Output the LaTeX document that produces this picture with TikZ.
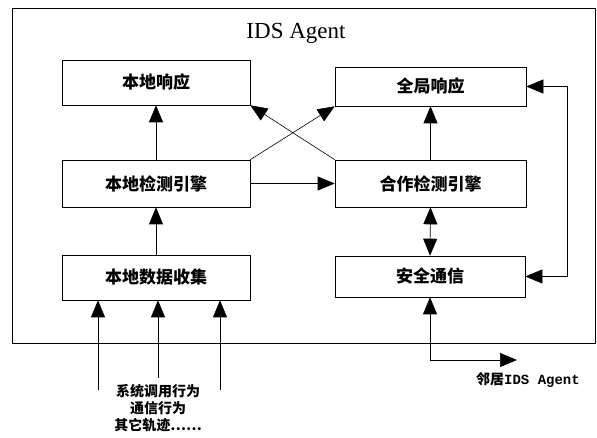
\documentclass[tikz,border=0pt]{standalone}
\usepackage{fontspec}
\setmainfont{Liberation Serif}
\setmonofont{Liberation Mono}
\newfontfamily\cjk{Noto Sans CJK SC}
\usetikzlibrary{arrows.meta}
\begin{document}
\begin{tikzpicture}[x=1pt,y=-1pt,line width=0.6pt,
  >={Triangle[length=17pt,width=14pt]},
  box/.style={draw,rectangle,inner sep=0pt,font=\cjk\bfseries\fontsize{17}{20}\selectfont},
  lbl/.style={font=\cjk\bfseries\fontsize{14}{17}\selectfont,align=center,inner sep=0pt}]
\useasboundingbox (0,0) rectangle (597,438);
\draw (12,8) rectangle (595,343);
\node[font=\fontsize{23}{26}\selectfont,inner sep=0pt] (title) at (296,33) {IDS Agent};

\node[box,minimum width=188pt,minimum height=45pt] (lr) at (156,82.5) {本地响应};
\node[box,minimum width=188pt,minimum height=47pt] (ld) at (156,183.5) {本地检测引擎};
\node[box,minimum width=188pt,minimum height=45pt] (lc) at (156,277.5) {本地数据收集};
\node[box,minimum width=191pt,minimum height=39pt] (gr) at (430.5,86.5) {全局响应};
\node[box,minimum width=191pt,minimum height=47pt] (cd) at (430.5,183.5) {合作检测引擎};
\node[box,minimum width=190pt,minimum height=41pt] (sc) at (430,276.5) {安全通信};

\draw[->] (ld.north) -- (lr.south);
\draw[->] (lc.north) -- (ld.south);
\draw[->] (ld.east) -- (cd.west);
\draw[->] (ld.north east) -- (gr.south west);
\draw[->] (cd.north west) -- (lr.south east);
\draw[->] (cd.north) -- (gr.south);
\draw[<->] (cd.south) -- (sc.north);
\coordinate (rl) at (567,86.5);
\draw[<->] (gr.east) -- (rl) |- (sc.east);

\coordinate (nb) at (517,360);
\draw[<->] (sc.south) |- (nb);
\node[inner sep=0pt] (nbl) at (528,380) {\cjk\bfseries\fontsize{14}{17}\selectfont 邻居\ttfamily IDS Agent};

\coordinate (i1) at (98,390);
\coordinate (i2) at (158,378);
\coordinate (i3) at (220,390);
\draw[->] (i1) -- (i1 |- lc.south);
\draw[->] (i2) -- (i2 |- lc.south);
\draw[->] (i3) -- (i3 |- lc.south);
\node[lbl] (src) at (158,408) {系统调用行为\\通信行为\\其它轨迹⋯⋯};
\end{tikzpicture}
\end{document}
